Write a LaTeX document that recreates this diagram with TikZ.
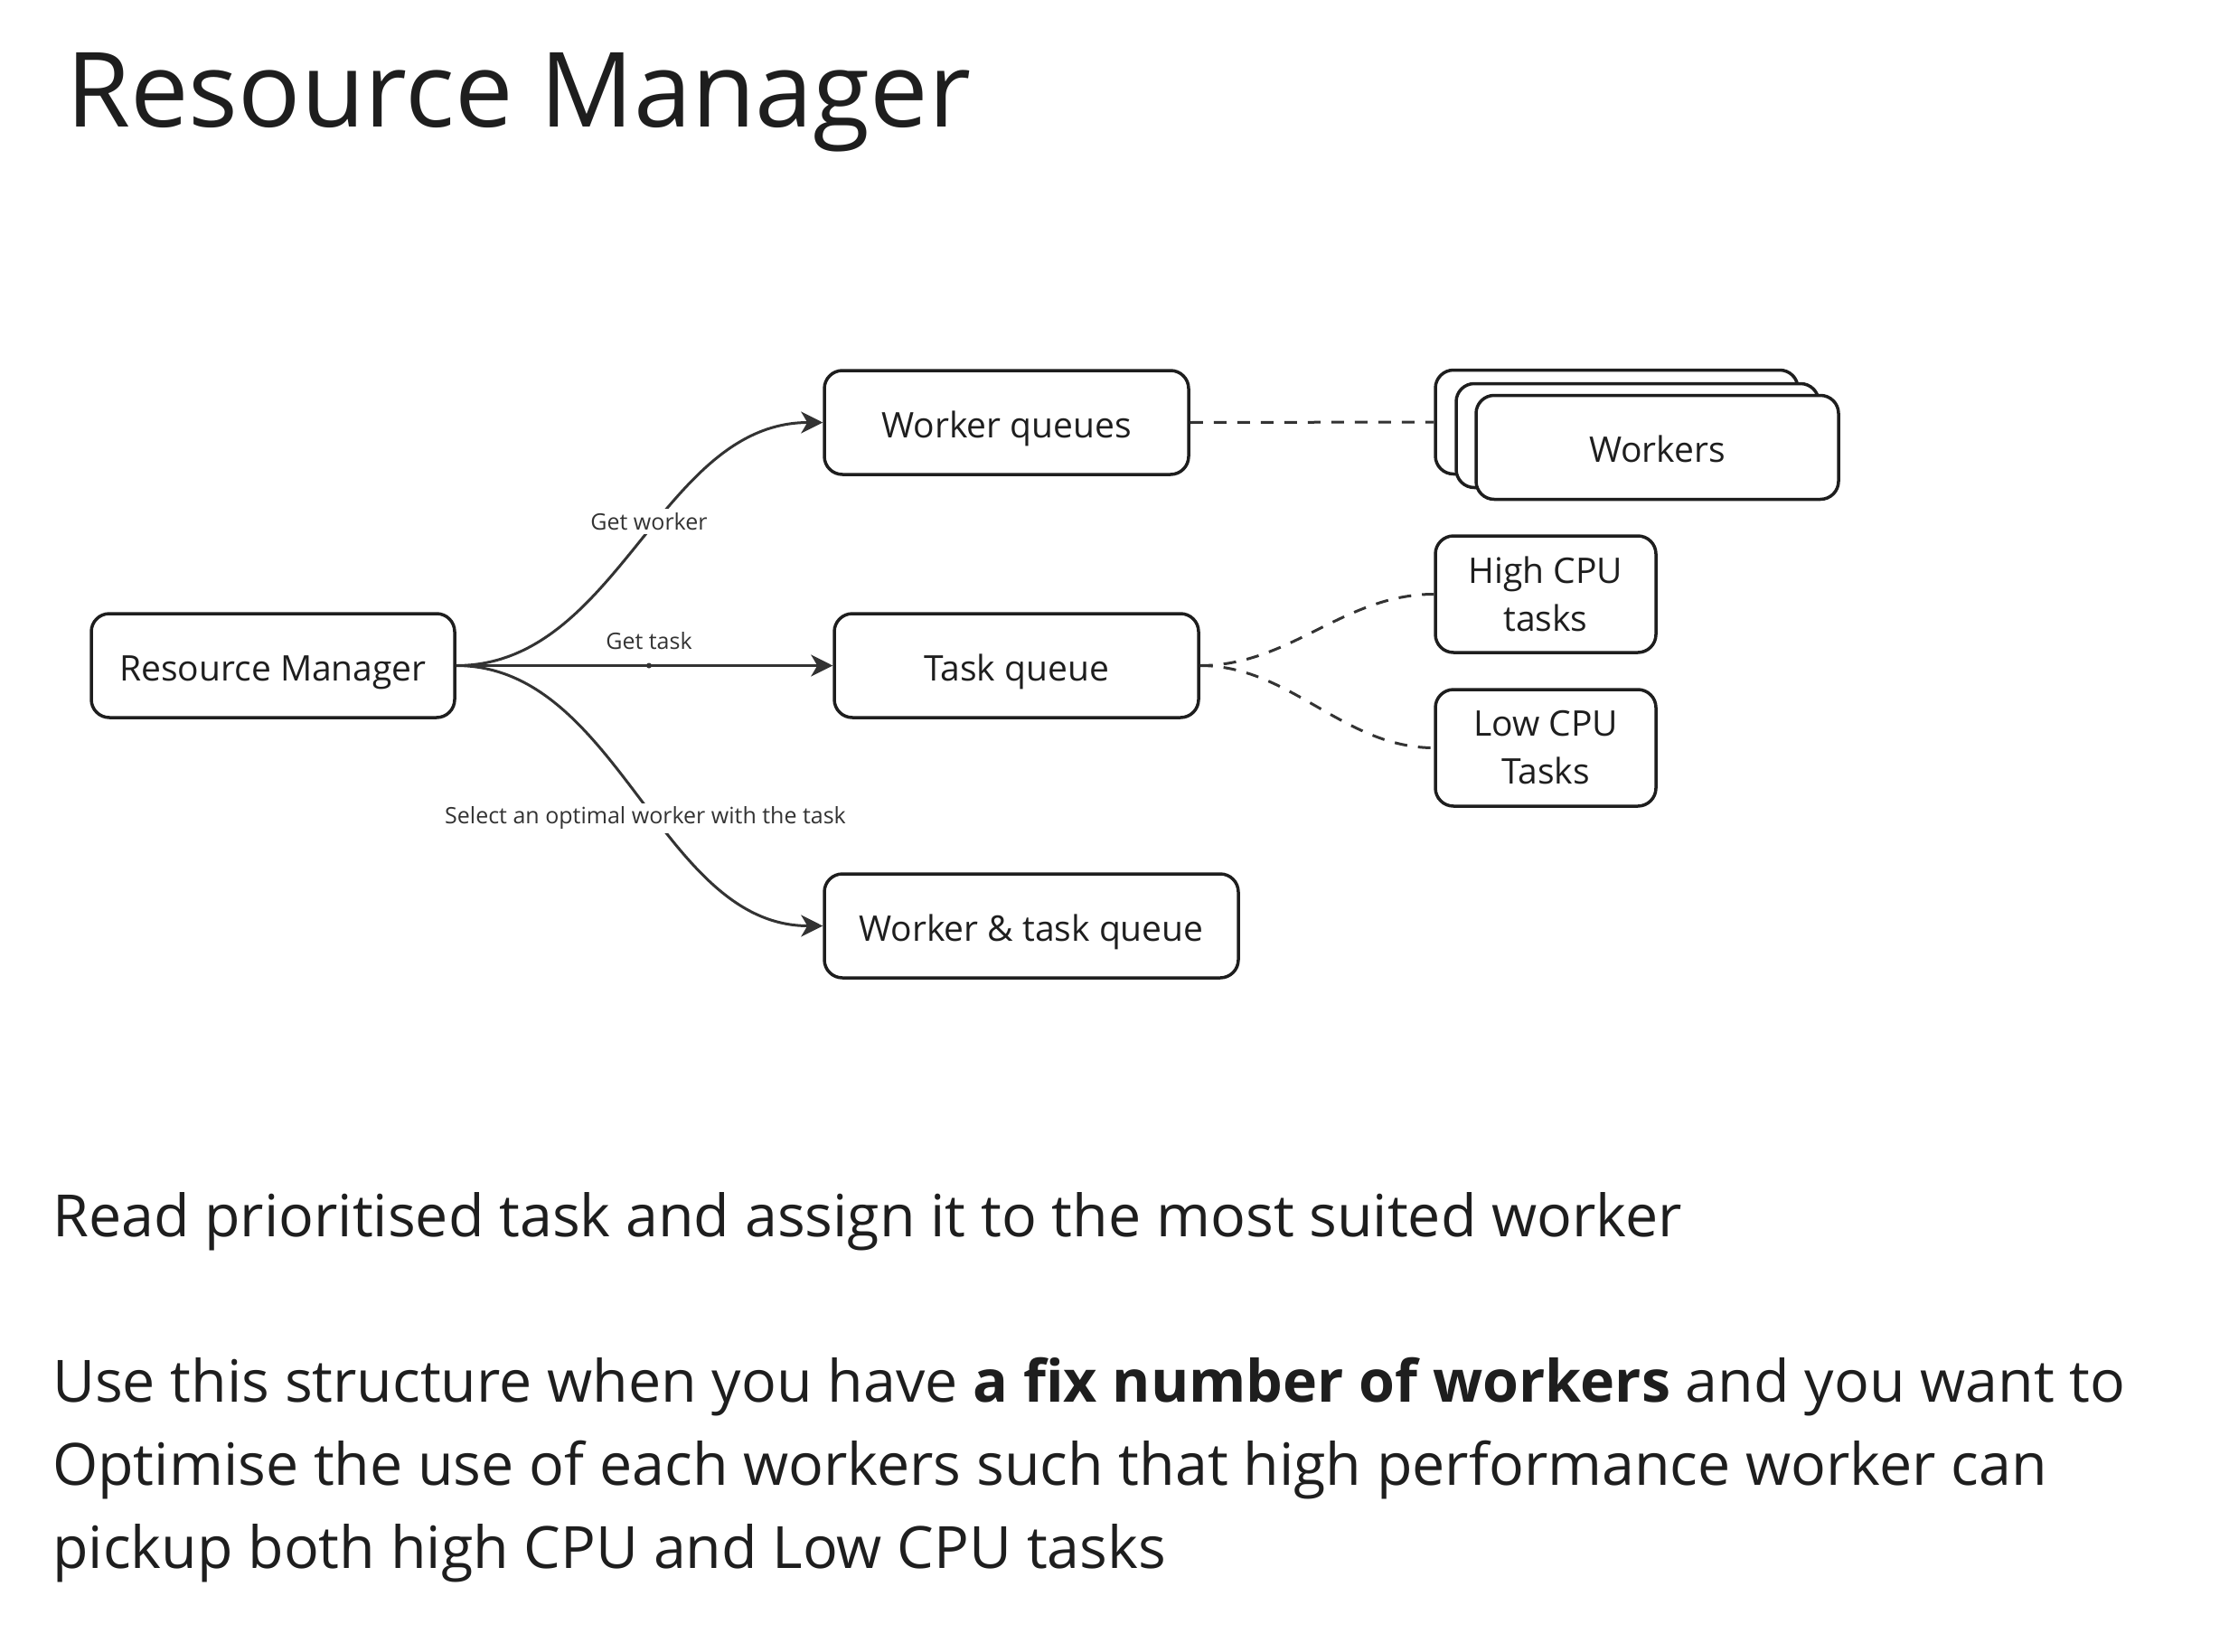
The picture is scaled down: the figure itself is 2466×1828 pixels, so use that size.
\documentclass[tikz,border=0pt]{standalone}
\usepackage{fontspec}
\setmainfont{Open Sans}
\usetikzlibrary{arrows.meta}
\definecolor{ink}{HTML}{1E1E1E}
\definecolor{wire}{HTML}{333333}
\begin{document}
\begin{tikzpicture}[x=1pt,y=-1pt,
 box/.style={draw=ink, line width=3.5pt, rounded corners=20pt, fill=white, text=ink,
   font=\fontsize{39}{53}\selectfont, align=center, inner sep=0pt},
 oneline/.style={text height=33pt, text depth=0pt},
 conn/.style={draw=wire, line width=3pt, -{Stealth[length=24pt,width=24pt,inset=7pt]}},
 dconn/.style={draw=wire, line width=3pt, dash pattern=on 14pt off 12pt},
 lbl/.style={font=\fontsize{25}{29}\selectfont, text=wire, fill=white, inner sep=4pt},
 para/.style={anchor=base west, inner sep=0pt, text=ink, font=\fontsize{64.5}{91}\selectfont}]
\useasboundingbox (0,0) rectangle (2466,1828);

\node[anchor=base west, inner sep=0pt, text=ink, font=\fontsize{115}{130}\selectfont] (title) at (73,140) {Resource Manager};

\node[box, oneline, minimum width=402pt, minimum height=115pt] (rm) at (302,736.5) {Resource Manager};
\node[box, oneline, minimum width=403pt, minimum height=115pt] (wq) at (1113.5,467.5) {Worker queues};
\node[box, oneline, minimum width=403pt, minimum height=115pt] (tq) at (1124.5,736.5) {Task queue};
\node[box, oneline, minimum width=458pt, minimum height=115pt] (wtq) at (1141,1024.5) {Worker \& task queue};

\node[box, minimum width=401pt, minimum height=115pt] (wk1) at (1788.5,467) {};
\node[box, minimum width=401pt, minimum height=115pt] (wk2) at (1811.5,482) {};
\node[box, oneline, minimum width=401pt, minimum height=115pt] (wk3) at (1833.5,495) {Workers};

\node[box, minimum width=244pt, minimum height=129pt] (hi) at (1710,657.5) {High CPU\\tasks};
\node[box, minimum width=244pt, minimum height=129pt] (lo) at (1710,827.5) {Low CPU\\Tasks};

\draw[conn] (rm.east) .. controls +(180,0) and +(-180,0) .. (wq.west);
\draw[conn] (rm.east) -- (tq.west);
\draw[conn] (rm.east) .. controls +(180,0) and +(-180,0) .. (wtq.west);
\fill[wire] (718,736.5) circle (3pt) coordinate (mid);

\node[lbl] (lw) at (718,577) {Get worker};
\node[lbl, fill=none] (lt) at (718,709) {Get task};
\node[lbl] (ls) at (714,905) {Select an optimal worker with the task};

\draw[dconn] (wq.east) -- (wk1.west);
\draw[dconn] (tq.east) .. controls +(100,0) and +(-100,0) .. (hi.west);
\draw[dconn] (tq.east) .. controls +(100,0) and +(-100,0) .. (lo.west);

\node[para] (p1) at (58,1368) {Read prioritised task and assign it to the most suited worker};
\node[para] (p2) at (58,1551) {Use this structure when you have \textbf{a fix number of workers} and you want to};
\node[para] (p3) at (58,1643) {Optimise the use of each workers such that high performance worker can};
\node[para] (p4) at (58,1735) {pickup both high CPU and Low CPU tasks};
\end{tikzpicture}
\end{document}
